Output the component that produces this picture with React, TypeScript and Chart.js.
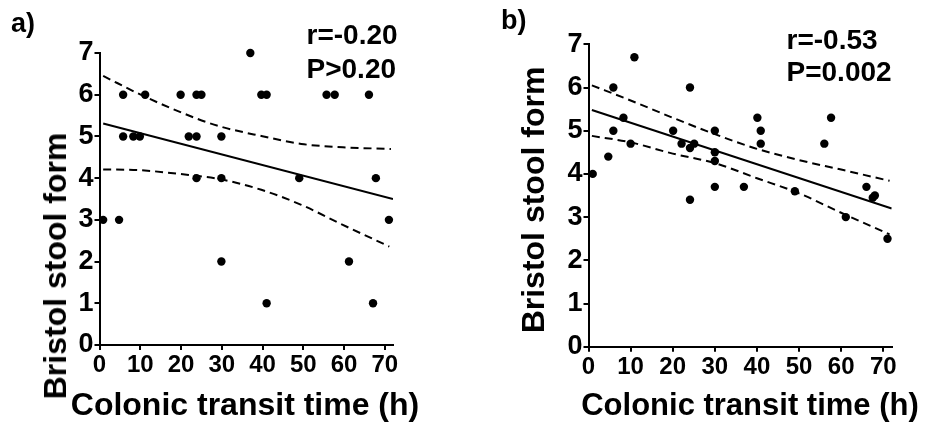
import React, { useEffect, useRef } from "react";
import { Chart, registerables } from "chart.js";

Chart.register(...registerables);

const FONT = '"Liberation Sans", Arial, Helvetica, sans-serif';

// Shared tick labels
const xTicks = [0, 10, 20, 30, 40, 50, 60, 70];
const yTicks = [0, 1, 2, 3, 4, 5, 6, 7];

// Panel a) data
const transitA = [0.9, 4.8, 5.8, 5.8, 8.3, 9.9, 11.2, 19.9, 21.9, 23.8, 23.8, 23.8, 25.0, 29.9, 29.9, 29.9, 37.0, 39.7, 41.0, 41.0, 49.0, 55.7, 57.7, 61.2, 66.1, 67.1, 67.8, 71.0];
const stoolA = [3, 3, 6, 5, 5, 5, 6, 6, 5, 5, 4, 6, 6, 5, 4, 2, 7, 6, 6, 1, 4, 6, 6, 2, 6, 1, 4, 3];
const fitXA = [0.9, 72];
const fitYA = [5.31, 3.5];
const ciXA = [0.9, 11.2, 23.8, 29.9, 39.7, 49.5, 59.7, 71.5];
const upperA = [6.45, 5.95, 5.43, 5.23, 5.01, 4.82, 4.74, 4.7];
const ciXA2 = [0.9, 9.9, 19.7, 29.9, 39.7, 49.5, 59.7, 71.1];
const lowerA = [4.21, 4.19, 4.1, 3.97, 3.72, 3.36, 2.88, 2.36];

// Panel b) data
const transitB = [1.0, 4.7, 5.9, 5.9, 8.3, 10.0, 10.9, 20.1, 22.1, 24.1, 24.1, 24.1, 25.1, 30.0, 30.0, 30.0, 30.0, 36.9, 40.1, 40.9, 40.9, 49.0, 56.0, 57.6, 61.1, 66.0, 67.5, 68.0, 71.0];
const stoolB = [4.0, 4.4, 6.0, 5.0, 5.3, 4.7, 6.7, 5.0, 4.7, 6.0, 4.6, 3.4, 4.7, 5.0, 4.5, 4.3, 3.7, 3.7, 5.3, 5.0, 4.7, 3.6, 4.7, 5.3, 3.0, 3.7, 3.45, 3.5, 2.5];
const fitXB = [0.8, 72];
const fitYB = [5.48, 3.2];
const ciXB = [0.8, 10, 20, 30, 40, 50, 60, 71.5];
const upperB = [6.05, 5.7, 5.3, 4.92, 4.58, 4.32, 4.1, 3.84];
const lowerB = [4.88, 4.73, 4.47, 4.25, 3.9, 3.55, 3.1, 2.6];

type Spec = {
  transit: number[];
  stool: number[];
  fitX: number[];
  fitY: number[];
  upX: number[];
  up: number[];
  loX: number[];
  lo: number[];
  width: number;
  height: number;
  yAxisWidth: number;
  xAxisHeight: number;
  padTop: number;
  padRight: number;
};

const toPts = (xs: number[], ys: number[]) => xs.map((x, i) => ({ x, y: ys[i] }));

function buildConfig(p: Spec): any {
  const dashed = {
    type: "line",
    borderColor: "#000",
    borderWidth: 2,
    borderDash: [8, 5],
    pointRadius: 0,
    fill: false,
    cubicInterpolationMode: "monotone",
    showLine: true,
  };
  const axisCommon = {
    type: "linear",
    grid: {
      display: true,
      drawOnChartArea: false,
      drawTicks: true,
      tickLength: 5,
      color: "#000",
      lineWidth: 2,
    },
    border: { display: true, color: "#000", width: 2 },
  };
  return {
    type: "scatter",
    data: {
      datasets: [
        {
          type: "scatter",
          data: toPts(p.transit, p.stool),
          pointRadius: 4.2,
          pointHoverRadius: 4.2,
          pointBackgroundColor: "#000",
          pointBorderColor: "#000",
          pointBorderWidth: 0,
          clip: false,
        },
        {
          type: "line",
          data: toPts(p.fitX, p.fitY),
          borderColor: "#000",
          borderWidth: 2,
          pointRadius: 0,
          fill: false,
          showLine: true,
        },
        { ...dashed, data: toPts(p.upX, p.up) },
        { ...dashed, data: toPts(p.loX, p.lo) },
      ],
    },
    options: {
      animation: false,
      responsive: false,
      maintainAspectRatio: false,
      events: [],
      layout: { padding: { left: 0, top: p.padTop, right: p.padRight, bottom: 0 } },
      plugins: { legend: { display: false }, tooltip: { enabled: false }, title: { display: false } },
      scales: {
        x: {
          ...axisCommon,
          min: 0,
          max: 72,
          afterBuildTicks: (s: any) => {
            s.ticks = xTicks.map((v) => ({ value: v }));
          },
          afterFit: (s: any) => {
            s.height = p.xAxisHeight;
            s.paddingLeft = 0;
            s.paddingRight = 0;
          },
          ticks: {
            color: "#000",
            font: { family: FONT, size: 24, weight: "bold" },
            padding: 1,
            maxRotation: 0,
            minRotation: 0,
            autoSkip: false,
          },
        },
        y: {
          ...axisCommon,
          min: 0,
          max: 7,
          afterBuildTicks: (s: any) => {
            s.ticks = yTicks.map((v) => ({ value: v }));
          },
          afterFit: (s: any) => {
            s.width = p.yAxisWidth;
            s.paddingTop = 0;
            s.paddingBottom = 0;
          },
          ticks: {
            color: "#000",
            font: { family: FONT, size: 27, weight: "bold" },
            padding: 1,
            autoSkip: false,
          },
        },
      },
    },
  };
}

function Panel({ spec, left }: { spec: Spec; left: number }) {
  const ref = useRef<HTMLCanvasElement | null>(null);
  useEffect(() => {
    if (!ref.current) return;
    const chart = new Chart(ref.current, buildConfig(spec));
    return () => chart.destroy();
  }, []);
  return (
    <canvas
      ref={ref}
      width={spec.width}
      height={spec.height}
      style={{ position: "absolute", left, top: 0, width: spec.width, height: spec.height }}
    />
  );
}

const specA: Spec = {
  transit: transitA,
  stool: stoolA,
  fitX: fitXA,
  fitY: fitYA,
  upX: ciXA,
  up: upperA,
  loX: ciXA2,
  lo: lowerA,
  width: 470,
  height: 431,
  yAxisWidth: 99.5,
  xAxisHeight: 86,
  padTop: 53,
  padRight: 77,
};

const specB: Spec = {
  transit: transitB,
  stool: stoolB,
  fitX: fitXB,
  fitY: fitYB,
  upX: ciXB,
  up: upperB,
  loX: ciXB,
  lo: lowerB,
  width: 457,
  height: 431,
  yAxisWidth: 118.5,
  xAxisHeight: 84.3,
  padTop: 44.3,
  padRight: 35.3,
};

const txt = (size: number): React.CSSProperties => ({
  position: "absolute",
  fontFamily: FONT,
  fontWeight: "bold",
  fontSize: size,
  lineHeight: 1,
  whiteSpace: "nowrap",
  color: "#000",
});

function YTitle({ cx, cy, size }: { cx: number; cy: number; size: number }) {
  return (
    <div
      style={{
        ...txt(size),
        left: cx,
        top: cy,
        transform: "translate(-50%, -50%) rotate(-90deg)",
      }}
    >
      Bristol stool form
    </div>
  );
}

function XTitle({ cx, baseline, size }: { cx: number; baseline: number; size: number }) {
  return (
    <div
      style={{
        ...txt(size),
        left: cx,
        top: baseline - size * 0.8465,
        transform: "translateX(-50%)",
      }}
    >
      Colonic transit time (h)
    </div>
  );
}

function Label({ x, baseline, size, text }: { x: number; baseline: number; size: number; text: string }) {
  return <div style={{ ...txt(size), left: x, top: baseline - size * 0.8465 }}>{text}</div>;
}

export default function App() {
  return (
    <div
      style={{
        position: "absolute",
        left: 0,
        top: 0,
        width: 927,
        height: 431,
        background: "#fff",
        overflow: "hidden",
      }}
    >
      <Panel spec={specA} left={0} />
      <Panel spec={specB} left={470} />
      <Label x={11} baseline={33} size={27} text="a)" />
      <Label x={501} baseline={30} size={27} text="b)" />
      <Label x={306.5} baseline={45} size={28} text="r=-0.20" />
      <Label x={306.5} baseline={78.3} size={28} text="P>0.20" />
      <Label x={786.5} baseline={50} size={28} text="r=-0.53" />
      <Label x={786.5} baseline={81.7} size={28} text="P=0.002" />
      <YTitle cx={55} cy={265.5} size={32} />
      <YTitle cx={532.5} cy={200} size={32} />
      <XTitle cx={245} baseline={415} size={32} />
      <XTitle cx={750} baseline={415} size={31} />
    </div>
  );
}
